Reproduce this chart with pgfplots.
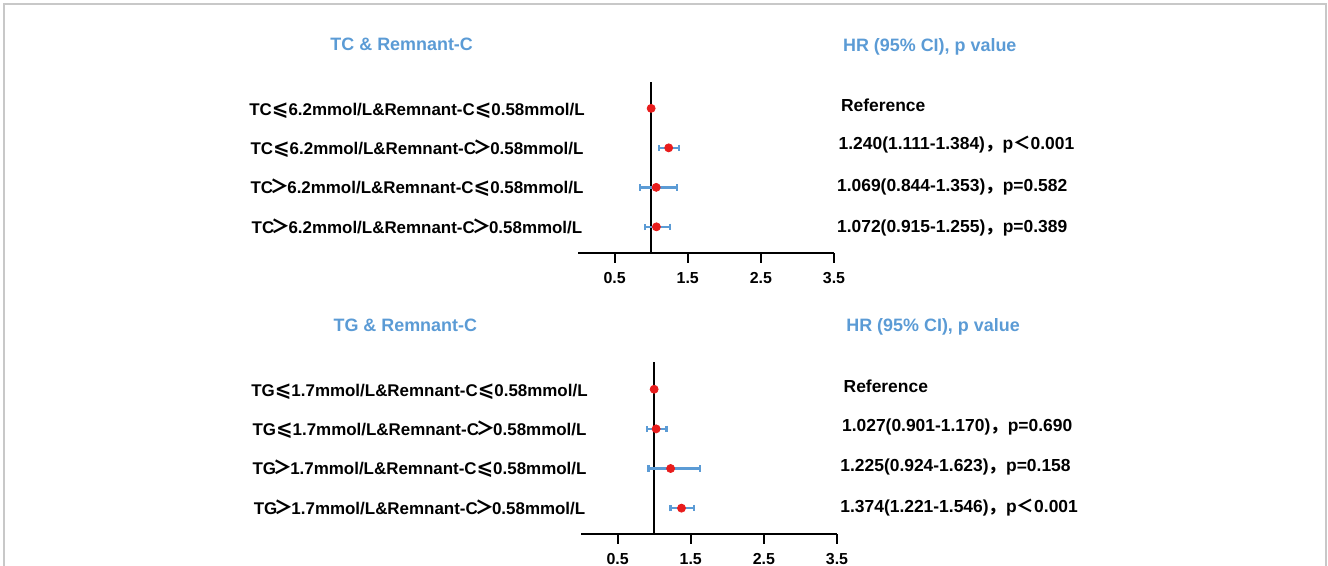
\documentclass[border=0pt]{standalone}
\usepackage{fontspec}
\setmainfont{Liberation Sans}
\newfontfamily\cjk{Noto Sans CJK SC}
\newfontfamily\djv{DejaVu Sans}
\usepackage{pgfplots}
\usepackage{pgfplotstable}
\pgfplotsset{compat=1.18}
\definecolor{hdrblue}{RGB}{91,155,213}
\definecolor{ciblue}{RGB}{91,155,213}
\definecolor{ptred}{RGB}{232,28,28}
\definecolor{framegray}{RGB}{200,200,200}
\newcommand{\LE}{\makebox[0.98em]{\djv\bfseries\fontsize{10}{10}\selectfont ⩽}}
\newcommand{\GT}{\makebox[0.84em]{\cjk\bfseries\fontsize{9.5}{10}\selectfont ＞}}
\newcommand{\LT}{{\cjk\bfseries ＜}}
\newcommand{\CM}{{\cjk\bfseries ，}}

\pgfplotstableread{
row hr lo hi
3 1.240 1.111 1.384
2 1.069 0.844 1.353
1 1.072 0.915 1.255
}\tctable
\pgfplotstableread{
row hr lo hi
3 1.027 0.901 1.170
2 1.225 0.924 1.623
1 1.374 1.221 1.546
}\tgtable

\pgfplotsset{
  forest/.style={
    anchor=south west,
    scale only axis,
    width=128bp,
    xmin=0, xmax=3.5,
    axis x line*=bottom, axis y line=none,
    xtick={0.5,1.5,2.5,3.5}, ytick=\empty,
    tick align=outside, major tick length=5bp,
    x axis line style={line width=1bp, black},
    xtick style={line width=1bp, black},
    xticklabel style={font=\bfseries\fontsize{8}{9}\selectfont, yshift=-1.5bp},
    /pgf/number format/assume math mode=true,
    /pgf/number format/fixed,
    clip=false,
  },
  ci/.style={
    only marks, mark=*, mark size=2bp,
    mark options={fill=ptred, draw=ptred},
    error bars/.cd, x dir=both, x explicit,
    error mark=|,
    error bar style={line width=1.2bp, draw=ciblue, solid},
    error mark options={line width=1.2bp, draw=ciblue, mark size=1.6bp},
  },
  refpt/.style={only marks, mark=*, mark size=2bp, mark options={fill=ptred, draw=ptred}},
}

\begin{document}
\begin{tikzpicture}
\useasboundingbox (0,0) rectangle (664bp,-283bp);
\draw[framegray, line width=0.6bp] (2bp,-290bp) -- (2bp,-2bp) -- (663bp,-2bp) -- (663bp,-290bp);

% top panel
\begin{axis}[forest, at={(289bp,-126.25bp)}, height=85.3bp, ymin=0.35, ymax=4.67]
\addplot[black, line width=1bp] coordinates {(1,0.35) (1,4.67)};
\addplot[ci] table[x=hr, y=row,
  x error plus expr=\thisrow{hi}-\thisrow{hr},
  x error minus expr=\thisrow{hr}-\thisrow{lo}] {\tctable};
\addplot[refpt] coordinates {(1,4)};
\end{axis}

% bottom panel
\begin{axis}[forest, at={(290.5bp,-266.75bp)}, height=86bp, ymin=0.36, ymax=4.70]
\addplot[black, line width=1bp] coordinates {(1,0.36) (1,4.70)};
\addplot[ci] table[x=hr, y=row,
  x error plus expr=\thisrow{hi}-\thisrow{hr},
  x error minus expr=\thisrow{hr}-\thisrow{lo}] {\tgtable};
\addplot[refpt] coordinates {(1,4)};
\end{axis}

\begin{scope}[x=0.5bp, y=-0.5bp, every node/.style={inner sep=0pt, font=\bfseries\fontsize{8.75}{10}\selectfont}]
% headers
\node[anchor=base, text=hdrblue, font=\bfseries\fontsize{9}{11}\selectfont] at (401.7,50.4) {TC \& Remnant-C};
\node[anchor=base west, text=hdrblue, font=\bfseries\fontsize{9}{11}\selectfont] at (842.7,51.4) {HR (95\% CI), p value};
\node[anchor=base, text=hdrblue, font=\bfseries\fontsize{9}{11}\selectfont] at (405.3,331.4) {TG \& Remnant-C};
\node[anchor=base west, text=hdrblue, font=\bfseries\fontsize{9}{11}\selectfont] at (846,331.4) {HR (95\% CI), p value};
\end{scope}
\begin{scope}[x=0.5bp, y=-0.5bp, every node/.style={inner sep=0pt, font=\bfseries\fontsize{8.5}{10}\selectfont}]
% top row labels
\node[anchor=base] at (417,115.1) {TC\LE6.2mmol/L\&Remnant-C\LE0.58mmol/L};
\node[anchor=base] at (417,154.6) {TC\LE6.2mmol/L\&Remnant-C\GT0.58mmol/L};
\node[anchor=base] at (417,193.6) {TC\GT6.2mmol/L\&Remnant-C\LE0.58mmol/L};
\node[anchor=base] at (417,233.6) {TC\GT6.2mmol/L\&Remnant-C\GT0.58mmol/L};
% bottom row labels
\node[anchor=base] at (419.5,396.3) {TG\LE1.7mmol/L\&Remnant-C\LE0.58mmol/L};
\node[anchor=base] at (419.5,435.3) {TG\LE1.7mmol/L\&Remnant-C\GT0.58mmol/L};
\node[anchor=base] at (419.5,474.6) {TG\GT1.7mmol/L\&Remnant-C\LE0.58mmol/L};
\node[anchor=base] at (419.5,514.6) {TG\GT1.7mmol/L\&Remnant-C\GT0.58mmol/L};
\end{scope}
\begin{scope}[x=0.5bp, y=-0.5bp, every node/.style={inner sep=0pt, font=\bfseries\fontsize{8.75}{10}\selectfont}]
% top HR texts
\node[anchor=base west] at (840.7,111.3) {Reference};
\node[anchor=base west] at (838.3,149.6) {1.240(1.111-1.384)\CM{}p\LT{}0.001};
\node[anchor=base west] at (836.7,191.3) {1.069(0.844-1.353)\CM{}p=0.582};
\node[anchor=base west] at (836.7,233) {1.072(0.915-1.255)\CM{}p=0.389};
% bottom HR texts
\node[anchor=base west] at (843.3,392.3) {Reference};
\node[anchor=base west] at (841.7,431.3) {1.027(0.901-1.170)\CM{}p=0.690};
\node[anchor=base west] at (840,471.3) {1.225(0.924-1.623)\CM{}p=0.158};
\node[anchor=base west] at (840,513) {1.374(1.221-1.546)\CM{}p\LT{}0.001};
\end{scope}
\end{tikzpicture}
\end{document}
